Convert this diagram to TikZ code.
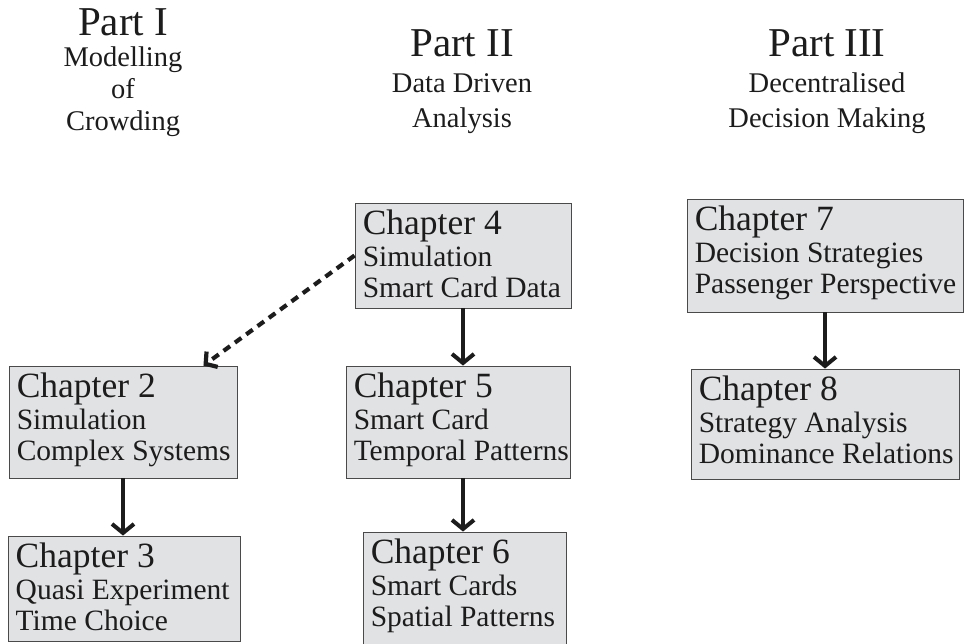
\documentclass[tikz,border=0pt]{standalone}
\usepackage{fontspec}
\setmainfont{Liberation Serif}
\usetikzlibrary{arrows.meta,calc,fit}
\definecolor{boxfill}{HTML}{E1E2E4}
\definecolor{boxline}{HTML}{4A4A4A}
\definecolor{ink}{HTML}{1C1C1C}
\tikzset{
  chapbox/.style={rectangle, draw=boxline, fill=boxfill, line width=0.9pt, inner sep=0pt},
  chaphead/.style={anchor=base west, inner sep=0pt, text=ink, font=\fontsize{35.5}{38}\selectfont},
  chapline/.style={anchor=base west, inner sep=0pt, text=ink, font=\fontsize{29.5}{31}\selectfont},
  parthead/.style={anchor=base, inner sep=0pt, text=ink, font=\fontsize{41}{45}\selectfont},
  partline/.style={anchor=base, inner sep=0pt, text=ink, font=\fontsize{28.5}{32}\selectfont},
  flow/.style={draw=ink, line width=4pt, -{Straight Barb[length=9pt,width=22pt]}},
  linkdash/.style={draw=ink, line width=4.2pt, dash pattern=on 8pt off 6pt, -{Straight Barb[length=8pt,width=19pt]}},
}
% chapter box: name, left, top, right, bottom, heading, two subtitle lines
\newcommand\chapnode[8]{%
  \node[chapbox, fit={(#2,#3) (#4,#5)}] (#1) {};
  \node[chaphead] (#1-h) at ($(#1.north west)+(8,32)$) {#6};
  \node[chapline] (#1-a) at ($(#1.north west)+(8,64)$) {#7};
  \node[chapline] (#1-b) at ($(#1.north west)+(8,95)$) {#8};
}
\begin{document}
\begin{tikzpicture}[x=1pt,y=-1pt]
  \clip (0,0) rectangle (965,643);

  % part headings
  \node[parthead] (p1) at (123,35) {Part I};
  \node[partline] (p1a) at (123,66) {Modelling};
  \node[partline] (p1b) at (123,98) {of};
  \node[partline] (p1c) at (123,130) {Crowding};

  \node[parthead] (p2) at (462,56) {Part II};
  \node[partline] (p2a) at (462,92) {Data Driven};
  \node[partline] (p2b) at (462,127) {Analysis};

  \node[parthead] (p3) at (827,56) {Part III};
  \node[partline] (p3a) at (827,92) {Decentralised};
  \node[partline] (p3b) at (827,127) {Decision Making};

  % chapters
  \chapnode{c2}{9}{366}{237}{478}{Chapter 2}{Simulation}{Complex Systems}
  \chapnode{c3}{8}{536}{240}{641}{Chapter 3}{Quasi Experiment}{Time Choice}
  \chapnode{c4}{355}{203}{571}{308}{Chapter 4}{Simulation}{Smart Card Data}
  \chapnode{c5}{346}{366}{570}{478}{Chapter 5}{Smart Card}{Temporal Patterns}
  \chapnode{c6}{363}{532}{566}{650}{Chapter 6}{Smart Cards}{Spatial Patterns}
  \chapnode{c7}{687}{199}{963}{312}{Chapter 7}{Decision Strategies}{Passenger Perspective}
  \chapnode{c8}{691}{369}{959}{479}{Chapter 8}{Strategy Analysis}{Dominance Relations}

  % connectors
  \draw[flow] (c2.south) -- (c2.south |- c3.north);
  \draw[flow] (c4.south) -- (c4.south |- c5.north);
  \draw[flow] (c5.south -| c4.south) -- (c6.north -| c4.south);
  \draw[flow] (c7.south) -- (c7.south |- c8.north);
  \draw[linkdash] (c4.west) -- ($(c2.north east)+(-34,0)$);
\end{tikzpicture}
\end{document}
